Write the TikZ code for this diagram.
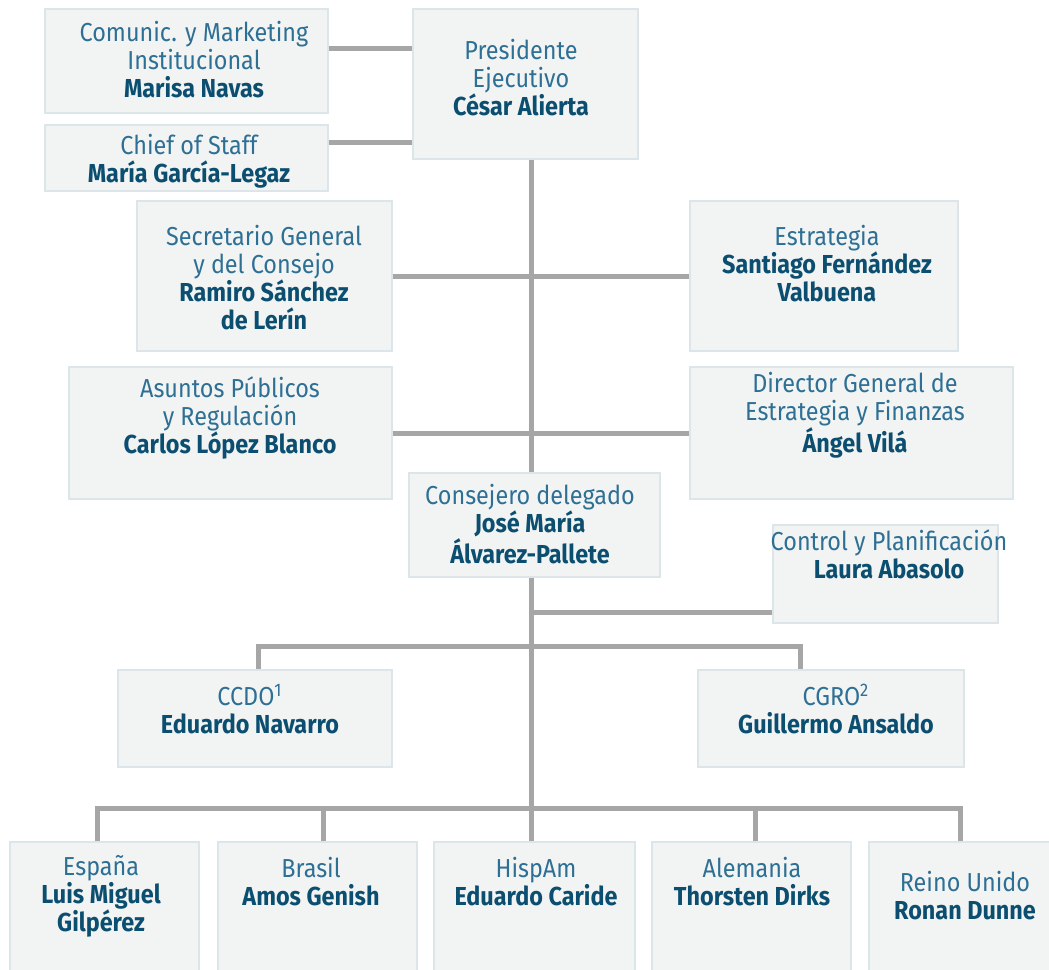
\documentclass[tikz,border=0pt]{standalone}
\usepackage{fontspec}
\setmainfont{Fira Sans}[FakeStretch=0.9]
\usepackage{xcolor}
\usetikzlibrary{calc}

\definecolor{boxfill}{HTML}{F2F4F4}
\definecolor{boxline}{HTML}{DCE6EA}
\definecolor{linkgray}{HTML}{A6A6A6}
\definecolor{rolecol}{HTML}{2E6F94}
\definecolor{namecol}{HTML}{0B4E70}

\begin{document}
\begin{tikzpicture}[x=0.5pt, y=-0.5pt,
		box/.style={draw=boxline, fill=boxfill, line width=0.6pt, inner sep=0pt},
		boxtext/.style={align=center, text=rolecol, inner sep=0pt, font=\fontsize{13}{14}\selectfont},
		link/.style={draw=linkgray, line width=2.5pt}]
		\def\tx{531};
		\def\busy{808};
		\def\nm#1{{\bfseries\color{namecol}#1}}
		% box: name, x1, y1, x2, y2, text x, text y, text
		\def\orgbox#1#2#3#4#5#6#7#8{
			\node[box, minimum width={(#4-#2)*0.5pt}, minimum height={(#5-#3)*0.5pt}] (#1) at ({(#2+#4)/2},{(#3+#5)/2}) {};
			\node[boxtext] (#1-t) at (#6,#7) {#8};
		}

		\useasboundingbox (0,0) rectangle (1049,969);

		\orgbox{comm}{45}{9}{328}{113}{194}{59.5}{Comunic. y Marketing\\Institucional\\\nm{Marisa Navas}}
		\orgbox{pres}{413}{9}{638}{159}{521}{78}{Presidente\\Ejecutivo\\\nm{César Alierta}}
		\orgbox{chief}{45}{125}{328}{191}{189}{161}{Chief of Staff\\\nm{María García-Legaz}}
		\orgbox{secr}{137}{201}{392}{351}{264}{278}{Secretario General\\y del Consejo\\\nm{Ramiro Sánchez}\\\nm{de Lerín}}
		\orgbox{estr}{690}{201}{958}{351}{827}{264}{Estrategia\\\nm{Santiago Fernández}\\\nm{Valbuena}}
		\orgbox{asun}{69}{367}{392}{499}{230}{418}{Asuntos Públicos\\y Regulación\\\nm{Carlos López Blanco}}
		\orgbox{dgef}{690}{367}{1013}{499}{855}{415}{Director General de\\Estrategia y Finanzas\\\nm{Ángel Vilá}}
		\orgbox{cons}{409}{473}{660}{577}{530}{524}{Consejero delegado\\\nm{José María}\\\nm{Álvarez-Pallete}}
		\orgbox{ctrl}{773}{525}{998}{623}{889}{554}{Control y Planificación\\\nm{Laura Abasolo}}
		\orgbox{ccdo}{118}{670}{392}{767}{250}{709}{CCDO\textsuperscript{1}\\\nm{Eduardo Navarro}}
		\orgbox{cgro}{698}{670}{964}{767}{836}{709}{CGRO\textsuperscript{2}\\\nm{Guillermo Ansaldo}}

		\orgbox{esp}{10}{842}{199}{990}{101}{896}{España\\\nm{Luis Miguel}\\\nm{Gilpérez}}
		\orgbox{bra}{218}{842}{417}{990}{311}{882}{Brasil\\\nm{Amos Genish}}
		\orgbox{hisp}{434}{842}{635}{990}{536}{882}{HispAm\\\nm{Eduardo Caride}}
		\orgbox{ale}{652}{842}{851}{990}{752}{882}{Alemania\\\nm{Thorsten Dirks}}
		\orgbox{ru}{869}{842}{1070}{990}{965}{896}{Reino Unido\\\nm{Ronan Dunne}}

		% top links
		\draw[link] (comm.east |- 0,48) -- (pres.west |- 0,48);
		\draw[link] (chief.east |- 0,142) -- (pres.west |- 0,142);
		\draw[link] (\tx,0 |- pres.south) -- (\tx,0 |- cons.north);
		\draw[link] (secr.east) -- (estr.west);
		\draw[link] (asun.east) -- (dgef.west);

		% below the Consejero
		\draw[link] (\tx,0 |- cons.south) -- (\tx,0 |- hisp.north);
		\draw[link] (\tx,612) -- (ctrl.west |- 0,612);
		\draw[link] (ccdo.north -| 258,0) -- (258,646) -- (800,646) -- (cgro.north -| 800,0);

		\draw[link] (esp.north -| 97,0) -- (97,\busy) -- (960,\busy) -- (ru.north -| 960,0);
		\foreach \dx/\dn in {323/bra, 755/ale}
		{
			\draw[link] (\dn.north -| \dx,0) -- (\dx,\busy);
		}
\end{tikzpicture}
\end{document}
